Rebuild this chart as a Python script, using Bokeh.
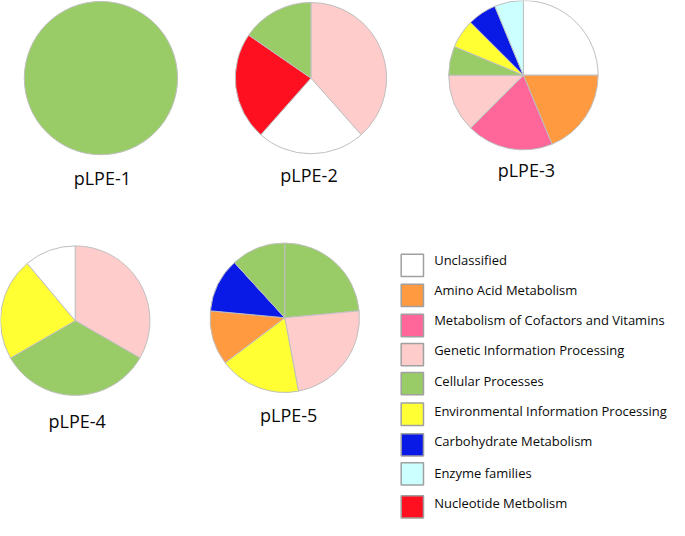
from bokeh.plotting import figure
from bokeh.models import Range1d, ColumnDataSource
from bokeh.core.properties import value
from bokeh.embed import file_html
from bokeh.resources import INLINE
import math

# ---------------- data ----------------
categories = [
    "Unclassified",
    "Amino Acid Metabolism",
    "Metabolism of Cofactors and Vitamins",
    "Genetic Information Processing",
    "Cellular Processes",
    "Environmental Information Processing",
    "Carbohydrate Metabolism",
    "Enzyme families",
    "Nucleotide Metbolism",
]
category_colors = ["#FFFFFF", "#FF9A40", "#FF6699", "#FFCCCC", "#99CC66",
                   "#FFFF33", "#0A1AE6", "#CCFFFF", "#FF1020"]

pie_names = ["pLPE-1", "pLPE-2", "pLPE-3", "pLPE-4", "pLPE-5"]

plpe1_cats = ["Cellular Processes"]
plpe1_vals = [1]

plpe2_cats = ["Genetic Information Processing", "Unclassified",
              "Nucleotide Metbolism", "Cellular Processes"]
plpe2_vals = [5, 3, 3, 2]

plpe3_cats = ["Unclassified", "Amino Acid Metabolism",
              "Metabolism of Cofactors and Vitamins", "Genetic Information Processing",
              "Cellular Processes", "Environmental Information Processing",
              "Carbohydrate Metabolism", "Enzyme families"]
plpe3_vals = [4, 3, 3, 2, 1, 1, 1, 1]

plpe4_cats = ["Genetic Information Processing", "Cellular Processes",
              "Environmental Information Processing", "Unclassified"]
plpe4_vals = [3, 3, 2, 1]

plpe5_cats = ["Cellular Processes", "Genetic Information Processing",
              "Environmental Information Processing", "Amino Acid Metabolism",
              "Carbohydrate Metabolism", "Cellular Processes"]
plpe5_vals = [4, 4, 3, 2, 2, 2]

pie_cats = [plpe1_cats, plpe2_cats, plpe3_cats, plpe4_cats, plpe5_cats]
pie_vals = [plpe1_vals, plpe2_vals, plpe3_vals, plpe4_vals, plpe5_vals]

# ---------------- layout (reference pixel coords, y down) ----------------
IMG_W, IMG_H = 685, 536
W, H = 669, 520
S = H / IMG_H  # uniform scale

pie_layout = [  # (cx, cy, r, label_x, label_y)
    (103.5, 80, 79, 105, 183),
    (320, 80, 78, 318, 180),
    (539, 77, 77, 542, 175),
    (77, 330, 77, 79, 433),
    (293, 327, 77, 297, 427),
]

color_of = dict(zip(categories, category_colors))

p = figure(width=W, height=H, output_backend="svg", toolbar_location=None,
           x_range=Range1d(0, W / S), y_range=Range1d(0, IMG_H),
           min_border=0, match_aspect=False)
p.axis.visible = False
p.grid.visible = False
p.outline_line_color = None
p.background_fill_color = "white"
p.border_fill_color = "white"

def Y(y):
    return IMG_H - y

for name, cats, vals, (cx, cy, r, lx, ly) in zip(pie_names, pie_cats, pie_vals, pie_layout):
    total = sum(vals)
    starts, ends, cols = [], [], []
    cum = 0.0
    for c, v in zip(cats, vals):
        a0 = cum / total * 2 * math.pi
        cum += v
        a1 = cum / total * 2 * math.pi
        # clockwise from 12 o'clock
        starts.append(math.pi / 2 - a1)
        ends.append(math.pi / 2 - a0)
        cols.append(color_of[c])
    src = ColumnDataSource(dict(x=[cx] * len(vals), y=[Y(cy)] * len(vals),
                                start=starts, end=ends, color=cols))
    if len(vals) == 1:
        p.circle(x=cx, y=Y(cy), radius=r, fill_color=cols[0],
                 line_color="#BFBFBF", line_width=1)
    else:
        p.wedge(x="x", y="y", radius=r, start_angle="start", end_angle="end",
                fill_color="color", line_color="#BFBFBF", line_width=1, source=src)
    p.text(x=[lx], y=[Y(ly)], text=[name], text_align="center",
           text_baseline="middle", text_font=value("Open Sans"),
           text_font_size="18px", text_color="#0A0A0A")

# legend
box_x0, box_w, box_h = 413, 23, 23
box_y = [273, 304, 335, 365, 395, 426.5, 458, 488, 522]
text_y = [267, 298, 329, 360, 392, 423, 454, 487, 518]
p.rect(x=[box_x0 + box_w / 2] * len(categories), y=[Y(v) for v in box_y],
       width=box_w, height=box_h, fill_color=category_colors,
       line_color="#A0A0A0", line_width=1.5)
p.text(x=[447] * len(categories), y=[Y(v) for v in text_y], text=categories,
       text_align="left", text_baseline="middle", text_font=value("Open Sans"),
       text_font_size="13px", text_color="#0A0A0A")

open("out.html", "w").write(file_html(p, INLINE))
